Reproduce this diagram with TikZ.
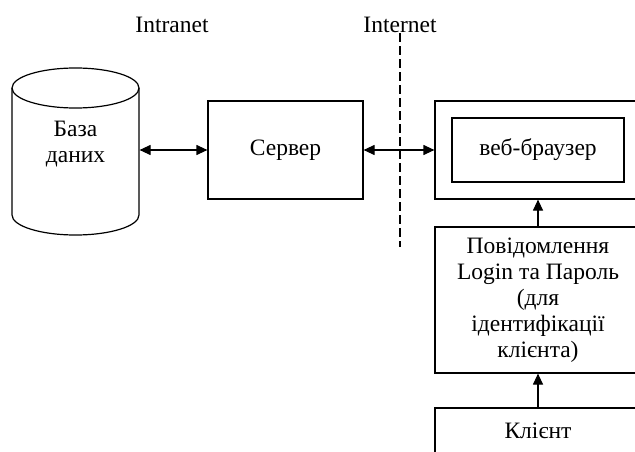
\documentclass[tikz,border=0pt]{standalone}
\usepackage{fontspec}
\setmainfont{Liberation Serif}
\usetikzlibrary{arrows.meta,positioning}

\begin{document}
\begin{tikzpicture}[x=1pt,y=-1pt,line width=1.2pt,>={Triangle[length=11pt,width=10pt]},
    box/.style={draw,align=center,inner sep=0pt},
    lbl/.style={align=center,inner sep=0pt},
    every node/.style={font=\fontsize{23.5}{26}\selectfont}]
	  \path[use as bounding box,clip] (0,0) rectangle (635,452);

	  % labels of the two zones
	  \node[lbl] (intra) at (172,25) {Intranet};
	  \node[lbl] (inet) at (400,25) {Internet};
	  \coordinate (cut) at (400,247);
	  \draw[dash pattern=on 9pt off 4pt] (inet.south) -- (cut);

	  % database
	  \node[lbl,minimum width=127pt] (db) at (75.5,144) {База\\даних};
	  \draw (12,88) -- (12,215) arc[start angle=180,end angle=360,x radius=63.5pt,y radius=20pt]
	      -- (139,88);
	  \draw (75.5,88) ellipse[x radius=63.5pt,y radius=20pt];

	  \node[box,minimum width=155pt,minimum height=98pt] (srv) at (285.5,150) {Сервер};

	  % client side
	  \node[box,minimum width=206pt,minimum height=98pt] (frame) at (538,150) {};
	  \node[box,minimum width=172pt,minimum height=64pt] (browser) at (538,150) {веб-браузер};
	  \node[box,minimum width=206pt,minimum height=146pt] (msg) at (538,300)
	      {Повідомлення\\Login та Пароль\\(для\\ідентифікації\\клієнта)};
	  \node[box,minimum width=206pt,minimum height=46pt] (client) at (538,431) {Клієнт};

	  \draw[<->] (db.east |- srv) -- (srv.west);
	  \draw[<->] (srv.east) -- (frame.west);
	  \draw[->] (msg.north) -- (frame.south);
	  \draw[->] (client.north) -- (msg.south);
\end{tikzpicture}
\end{document}
